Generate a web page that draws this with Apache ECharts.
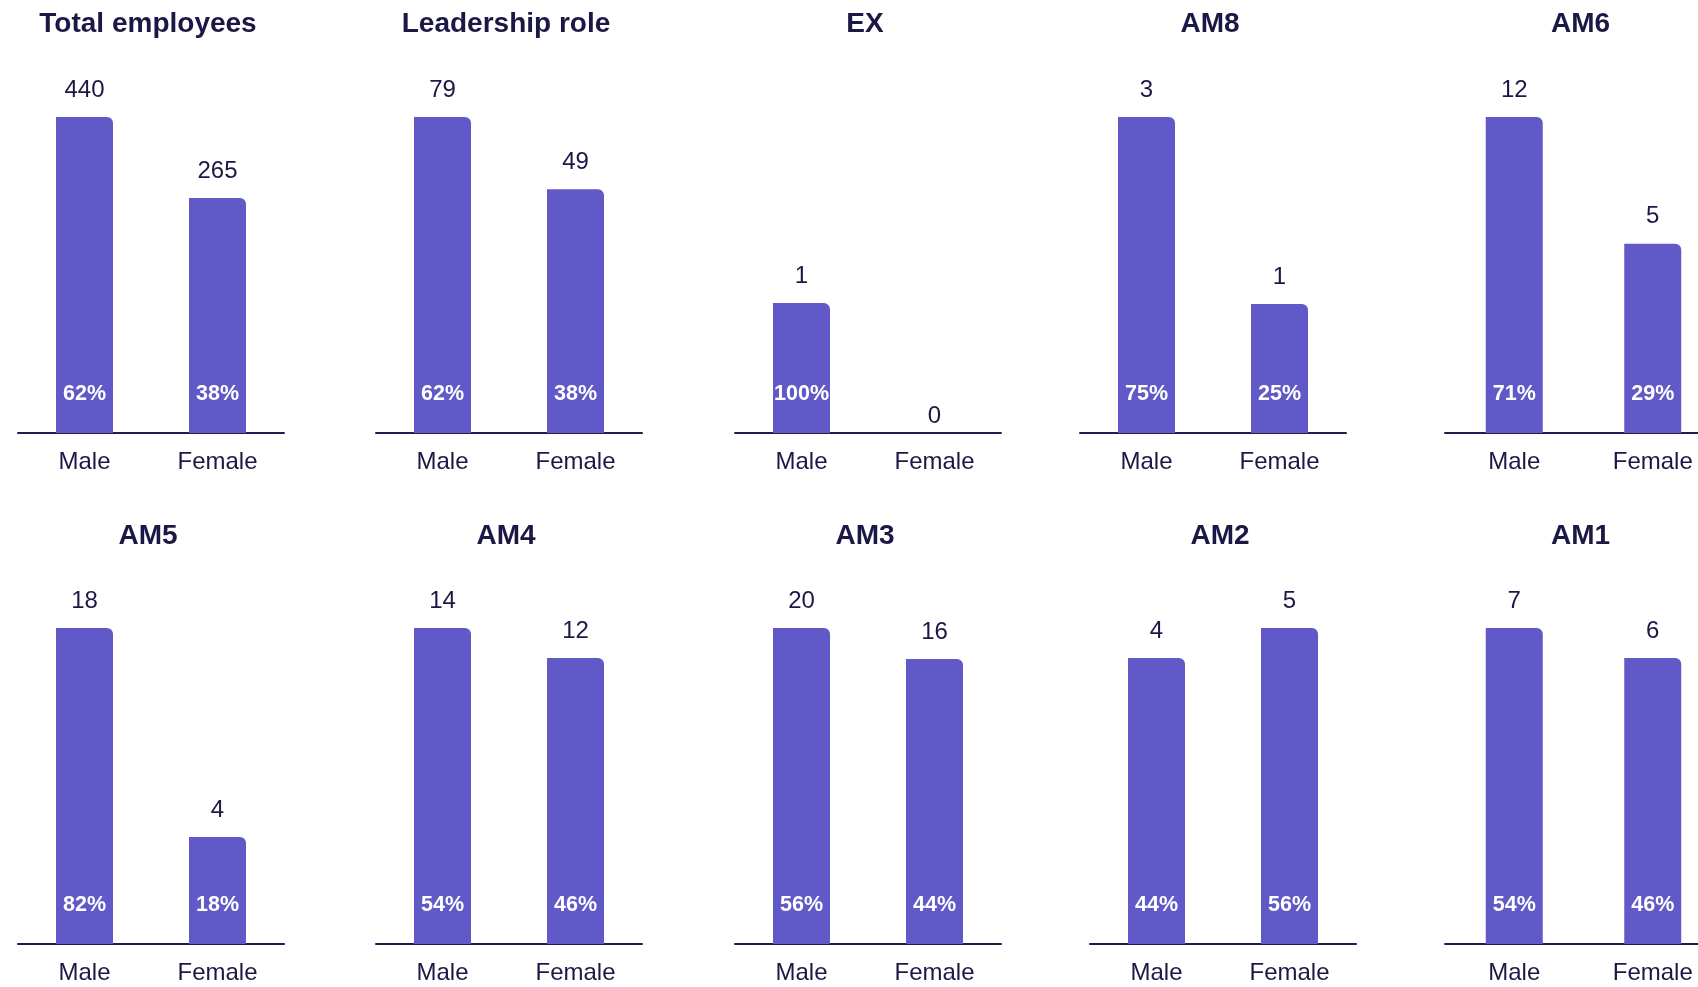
<!DOCTYPE html>
<html>
<head>
<meta charset="utf-8">
<script src="https://cdn.jsdelivr.net/npm/echarts@6/dist/echarts.min.js"></script>
<style>
html,body{margin:0;padding:0;background:#fff;overflow:hidden;}
#chart{width:1740px;height:987px;}
</style>
</head>
<body>
<div id="chart"></div>
<script>
// ---- data ----
const panelTitles = ['Total employees', 'Leadership role', 'EX', 'AM8', 'AM6', 'AM5', 'AM4', 'AM3', 'AM2', 'AM1'];
const categories = ['Male', 'Female'];
const maleCounts = [440, 79, 1, 3, 12, 18, 14, 20, 4, 7];
const femaleCounts = [265, 49, 0, 1, 5, 4, 12, 16, 5, 6];
const malePct = [62, 62, 100, 75, 71, 82, 54, 56, 44, 54];
const femalePct = [38, 38, null, 25, 29, 18, 46, 44, 56, 46];
// drawn bar lengths (% of the tallest bar)
const maleBarLength = [100, 100, 41.1, 100, 100, 100, 100, 100, 90.5, 100];
const femaleBarLength = [74.4, 77.1, 0, 40.8, 59.9, 33.9, 90.5, 90.2, 100, 90.5];

// ---- layout ----
const FONT = '"Liberation Sans", Arial, sans-serif';
const TEXT = '#1c1845';
const BAR = '#6259c8';
const gridLefts = [18, 376, 735, 1080, 1445, 18, 376, 735, 1090, 1445];
const gridWidths = [266, 266, 266, 266, 277, 266, 266, 266, 266, 277];
const gridTops = [117, 117, 117, 117, 117, 628, 628, 628, 628, 628];
const titleY = [24, 24, 24, 24, 24, 536, 536, 536, 536, 536];
const GH = 316;

const grid = [], xAxis = [], yAxis = [], series = [], graphic = [];
panelTitles.forEach((t, i) => {
  const GW = gridWidths[i];
  grid.push({left: gridLefts[i], width: GW, top: gridTops[i], height: GH, containLabel: false});
  xAxis.push({
    type: 'category', gridIndex: i, data: categories,
    axisLine: {show: true, lineStyle: {color: '#221d4f', width: 2}},
    axisTick: {show: false},
    axisLabel: {color: TEXT, fontFamily: FONT, fontSize: 24, margin: 17}
  });
  yAxis.push({type: 'value', gridIndex: i, min: 0, max: 100, show: false, splitLine: {show: false}});
  const counts = [maleCounts[i], femaleCounts[i]];
  const pcts = [malePct[i], femalePct[i]];
  const lengths = [maleBarLength[i], femaleBarLength[i]];
  series.push({
    type: 'bar', xAxisIndex: i, yAxisIndex: i, barWidth: 57,
    data: lengths.map(v => v === 0 ? {value: v, label: {distance: 5}} : v),
    itemStyle: {color: BAR, borderRadius: [0, 6, 0, 0]},
    label: {
      show: true, position: 'top', distance: 15, color: TEXT, fontFamily: FONT, fontSize: 24,
      formatter: p => String(counts[p.dataIndex])
    },
    silent: true, animation: false
  });
  series.push({
    type: 'bar', xAxisIndex: i, yAxisIndex: i, data: lengths, barWidth: 57, barGap: '-100%',
    itemStyle: {color: 'rgba(0,0,0,0)'},
    label: {
      show: true, position: 'insideBottom', distance: 28, color: '#ffffff', fontFamily: FONT,
      fontSize: 21.5, fontWeight: 'bold',
      formatter: p => pcts[p.dataIndex] == null ? '' : pcts[p.dataIndex] + '%'
    },
    silent: true, animation: false
  });
  graphic.push({
    type: 'text', x: gridLefts[i] + GW / 2 - 3, y: titleY[i],
    style: {text: t, fill: TEXT, font: 'bold 28px ' + FONT, textAlign: 'center', textVerticalAlign: 'middle'}
  });
});

const chart = echarts.init(document.getElementById('chart'), null, {renderer: 'canvas'});
chart.setOption({animation: false, grid, xAxis, yAxis, series, graphic});
</script>
</body>
</html>
